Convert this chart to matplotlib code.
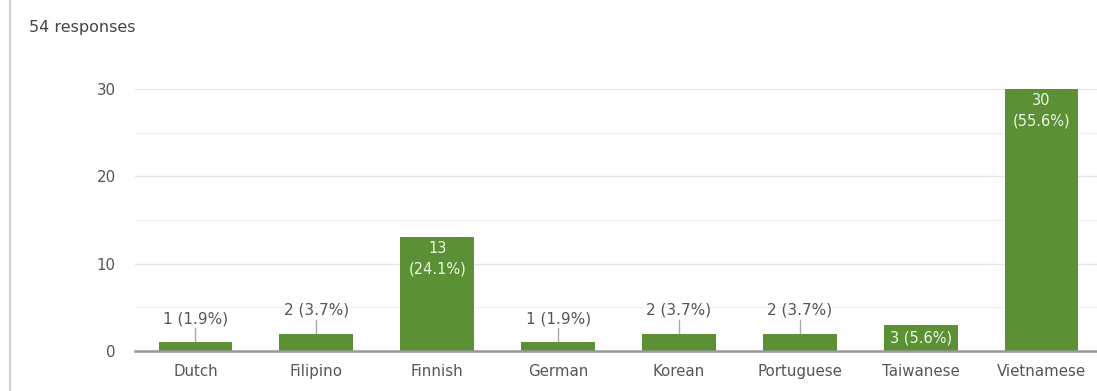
import matplotlib
matplotlib.use("Agg")
import matplotlib.pyplot as plt
from matplotlib.lines import Line2D

categories = ["Dutch", "Filipino", "Finnish", "German", "Korean", "Portuguese", "Taiwanese", "Vietnamese"]
counts = [1, 2, 13, 1, 2, 2, 3, 30]
labels = ["1 (1.9%)", "2 (3.7%)", "13\n(24.1%)", "1 (1.9%)", "2 (3.7%)", "2 (3.7%)", "3 (5.6%)", "30\n(55.6%)"]
yticks = [0, 10, 20, 30]
title = "54 responses"

green = "#5b9034"
txt = "#555555"

fig = plt.figure(figsize=(10.97, 3.91), dpi=100)
ax = fig.add_axes([135 / 1097, 0.1023, 967 / 1097, 0.6701])
x = list(range(len(categories)))
ax.bar(x, counts, width=0.61, color=green, zorder=3)
ax.set_xlim(-0.5, len(categories) - 0.5)
ax.set_ylim(0, 30)
ax.set_yticks(yticks)
ax.set_yticks([5, 15, 25], minor=True)
ax.set_xticks(x)
ax.set_xticklabels(categories, fontsize=10.8, color=txt)
ax.tick_params(axis="y", labelsize=10.8, colors=txt, length=0, pad=14)
ax.tick_params(axis="x", length=0, pad=9)
ax.tick_params(axis="y", which="minor", length=0)
ax.grid(axis="y", which="major", color="#e6e6e6", lw=1, zorder=0)
ax.grid(axis="y", which="minor", color="#f2f2f2", lw=1, zorder=0)
for s in ["top", "right", "left"]:
    ax.spines[s].set_visible(False)
ax.spines["bottom"].set_color("#999999")
ax.spines["bottom"].set_linewidth(1.8)
ax.spines["bottom"].set_zorder(4)

for xi, c, lab in zip(x, counts, labels):
    if c >= 10:
        ax.text(xi, c - 0.45, lab, ha="center", va="top", color="#eef5e6", fontsize=10.5, linespacing=1.45, zorder=5)
    elif c == 3:
        ax.text(xi, c / 2, lab, ha="center", va="center", color="#eef5e6", fontsize=10.5, zorder=5)
    else:
        top = c + 1.6
        ax.plot([xi, xi], [c, top], color="#aaaaaa", lw=1, zorder=2)
        ax.text(xi, top + 0.2, lab, ha="center", va="bottom", color=txt, fontsize=11, zorder=5)

fig.text(0.026, 0.93, title, ha="left", va="center", fontsize=11.5, color="#444444")
fig.add_artist(Line2D([0.009, 0.009], [0.0, 1.0], transform=fig.transFigure, color="#d0d0d0", lw=1.5))

fig.savefig("out.png", dpi=100, facecolor="white")
